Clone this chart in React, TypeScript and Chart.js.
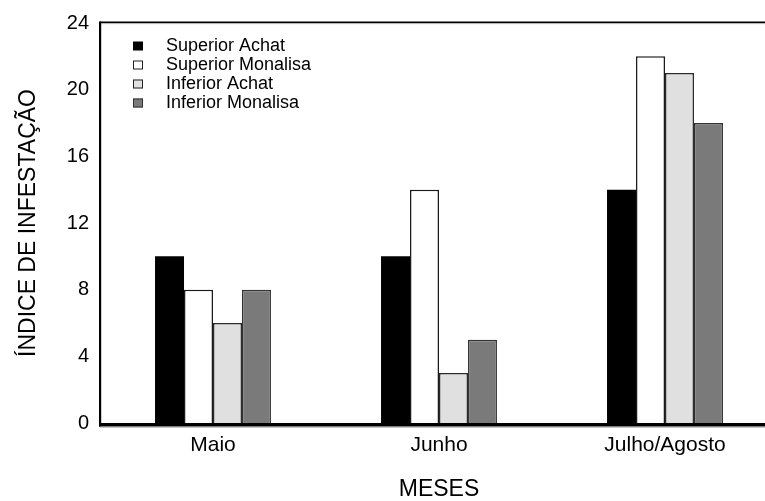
import { useEffect, useRef } from "react";
import { Chart, registerables } from "chart.js";

Chart.register(...registerables);

const categories = ["Maio", "Junho", "Julho/Agosto"];
const seriesLabels = ["Superior Achat", "Superior Monalisa", "Inferior Achat", "Inferior Monalisa"];
const superiorAchat = [10, 10, 14];
const superiorMonalisa = [8, 14, 22];
const inferiorAchat = [6, 3, 21];
const inferiorMonalisa = [8, 5, 18];
const yMin = 0;
const yMax = 24;
const yStep = 4;
const xTitle = "MESES";
const yTitle = "ÍNDICE DE INFESTAÇÃO";

const FONT = "'Liberation Sans', Arial, Helvetica, sans-serif";

const fills = ["#000000", "#ffffff", "#e0e0e0", "#7a7a7a"];
const strokes = ["#000000", "#1a1a1a", "#2a2a2a", "#333333"];

const framePlugin = {
  id: "frame",
  afterDatasetsDraw(chart: any) {
    const { ctx, chartArea } = chart;
    const { left, right, top, bottom } = chartArea;
    ctx.save();
    ctx.fillStyle = "#000";
    ctx.fillRect(left, top - 1.5, right - left, 1.6);
    ctx.fillStyle = "#b0b0b0";
    ctx.fillRect(left, top + 0.1, right - left, 1);
    ctx.fillStyle = "#000";
    ctx.fillRect(left - 1, top - 1.5, 2.2, bottom - top + 5);
    ctx.fillRect(left - 1, bottom, right - left + 1, 3.6);
    ctx.fillStyle = "#a0a0a0";
    ctx.fillRect(left, bottom + 3.6, right - left, 1);
    ctx.restore();
  },
};

const legendPlugin = {
  id: "innerLegend",
  afterDraw(chart: any) {
    const { ctx, chartArea } = chart;
    ctx.save();
    ctx.font = `18px ${FONT}`;
    ctx.textBaseline = "middle";
    ctx.textAlign = "left";
    chart.data.datasets.forEach((ds: any, i: number) => {
      const cy = chartArea.top + 23 + i * 19;
      const sx = chartArea.left + 33;
      ctx.fillStyle = ds.backgroundColor;
      ctx.fillRect(sx, cy - 4.5, 10, 9);
      if (i > 0) {
        ctx.strokeStyle = i === 3 ? "#333" : "#222";
        ctx.lineWidth = 1;
        ctx.strokeRect(sx + 0.5, cy - 4, 9, 8);
      }
      ctx.fillStyle = "#000";
      ctx.fillText(ds.label, chartArea.left + 66, cy + 0.5);
    });
    ctx.restore();
  },
};

export default function App() {
  const ref = useRef<HTMLCanvasElement | null>(null);

  useEffect(() => {
    if (!ref.current) return;
    const seriesValues = [superiorAchat, superiorMonalisa, inferiorAchat, inferiorMonalisa];
    const chart = new Chart(ref.current, {
      type: "bar",
      data: {
        labels: categories,
        datasets: seriesValues.map((vals, i) => ({
          label: seriesLabels[i],
          data: vals,
          backgroundColor: fills[i],
          borderColor: strokes[i],
          borderWidth: i === 0 ? 0 : 1.5,
          barPercentage: 1,
          categoryPercentage: 0.513,
        })),
      },
      options: {
        responsive: false,
        animation: false,
        devicePixelRatio: 1,
        layout: { padding: { top: 20, right: 2, bottom: 0, left: 0 } },
        plugins: {
          legend: { display: false },
          tooltip: { enabled: false },
        },
        scales: {
          x: {
            grid: { display: false, drawTicks: false },
            border: { display: false },
            ticks: {
              color: "#000",
              font: { family: FONT, size: 21 },
              padding: 10,
              maxRotation: 0,
            },
            title: {
              display: true,
              text: xTitle,
              color: "#000",
              font: { family: FONT, size: 23, lineHeight: 1 },
              padding: { top: 0, bottom: 0 },
            },
            afterFit(scale: any) {
              scale.height = 78;
            },
          },
          y: {
            min: yMin,
            max: yMax,
            grid: { display: false, drawTicks: false },
            border: { display: false },
            ticks: {
              stepSize: yStep,
              color: "#000",
              font: { family: FONT, size: 20 },
              padding: 11,
            },
            title: {
              display: true,
              text: yTitle,
              color: "#000",
              font: { family: FONT, size: 23 },
              padding: { top: 15, bottom: 0 },
            },
            afterFit(scale: any) {
              scale.width = 100;
            },
          },
        },
      },
      plugins: [framePlugin, legendPlugin],
    });
    return () => chart.destroy();
  }, []);

  return (
    <div
      style={{
        position: "fixed",
        left: 0,
        top: 0,
        width: 765,
        height: 501,
        overflow: "hidden",
        background: "#fff",
      }}
    >
      <canvas ref={ref} width={780} height={501} style={{ display: "block" }} />
    </div>
  );
}
